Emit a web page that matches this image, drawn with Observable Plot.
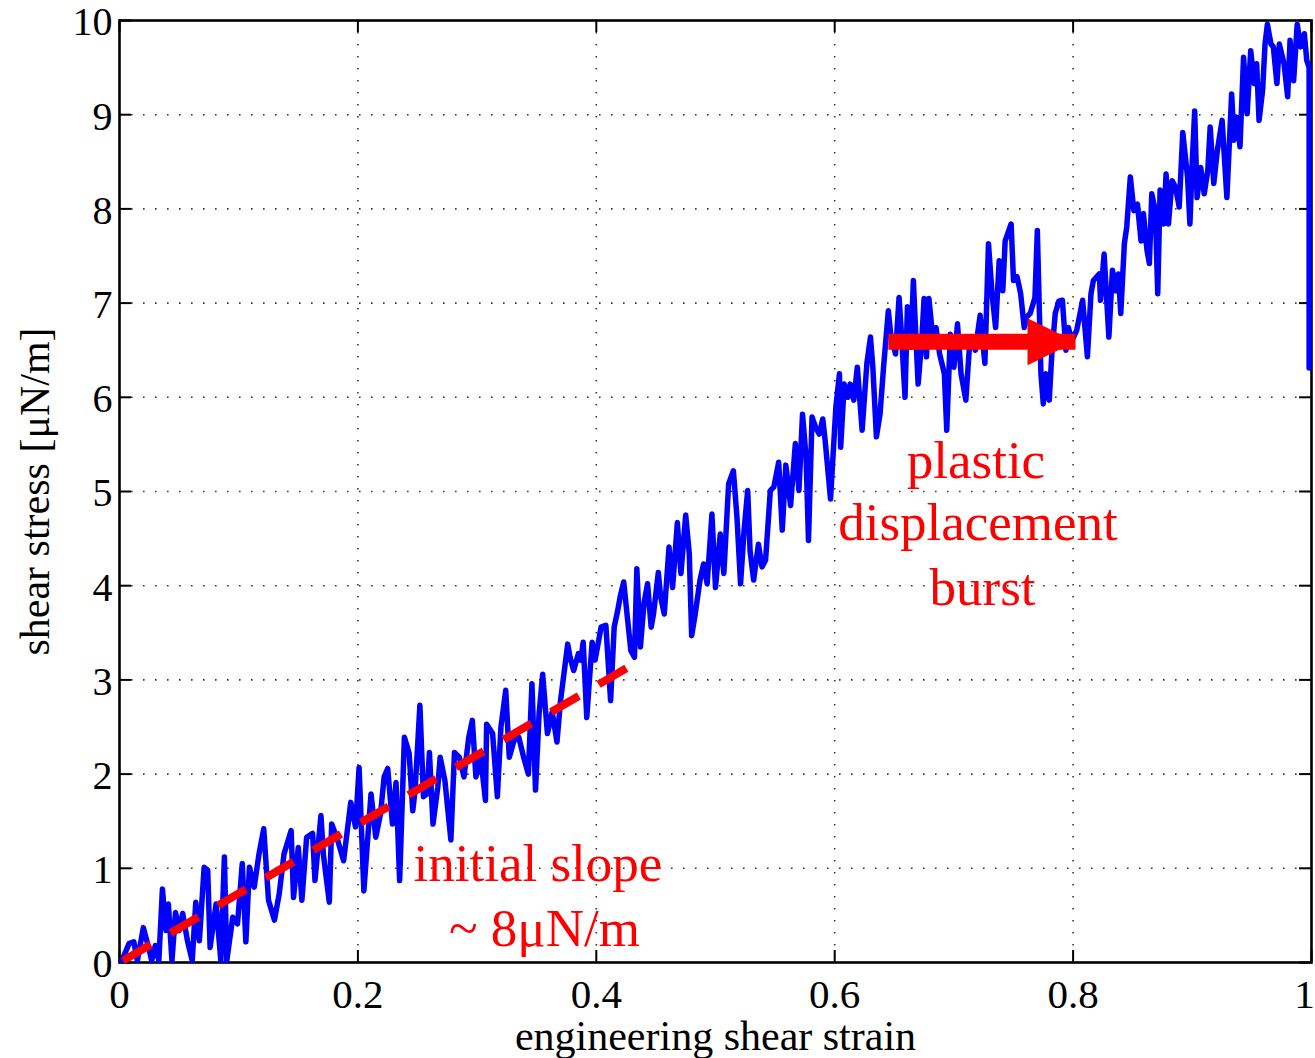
<!DOCTYPE html>
<html><head><meta charset="utf-8">
<script src="https://cdn.jsdelivr.net/npm/d3@7"></script>
<script src="https://cdn.jsdelivr.net/npm/@observablehq/plot@0.6"></script>
<style>
html,body{margin:0;padding:0;background:#fff;}
#chart svg{display:block;}
</style></head><body><div id="chart"></div>
<script>
// engineering shear strain (x) and shear stress in µN/m (y)
const strain = [
0.002,0.008,0.012,0.015,0.020,0.025,0.027,0.030,0.033,0.036,0.039,0.041,0.044,0.047,0.050,0.053,0.057,0.061,0.064,0.067,
0.071,0.074,0.076,0.081,0.085,0.088,0.090,0.095,0.099,0.103,0.106,0.109,0.113,0.117,0.121,0.125,0.130,0.134,0.138,0.144,
0.146,0.150,0.153,0.157,0.162,0.164,0.169,0.171,0.176,0.178,0.183,0.188,0.194,0.198,0.201,
0.205,0.211,0.215,0.219,0.222,0.225,0.229,0.232,0.235,0.239,0.243,0.246,0.248,0.252,0.255,0.258,0.260,0.263,0.267,0.269,
0.273,0.278,0.281,0.285,0.289,0.293,0.296,0.299,0.303,0.307,0.308,0.313,0.317,0.320,0.324,0.327,0.331,0.335,0.339,0.343,
0.346,0.349,0.352,0.355,0.359,0.363,0.367,0.370,0.376,0.378,0.381,0.385,0.387,0.389,0.392,0.3965,
0.399,0.404,0.408,0.412,0.415,0.418,0.420,0.423,0.426,0.429,0.432,0.434,0.437,0.440,0.443,0.446,0.448,0.452,0.454,0.457,
0.461,0.464,0.468,0.471,0.475,0.478,0.480,0.483,0.487,0.490,0.493,0.497,0.500,0.504,0.507,0.511,0.515,0.518,0.521,0.524,
0.527,0.529,0.532,0.536,0.539,0.542,0.546,0.549,0.553,0.556,0.559,0.563,0.567,0.570,0.573,0.576,0.578,
0.581,0.584,0.587,0.590,0.592,0.5965,0.601,0.604,0.605,0.608,0.611,0.613,0.616,0.619,0.623,0.627,0.630,0.632,0.635,0.638,
0.641,0.645,0.647,0.651,0.654,0.656,0.659,0.661,0.664,0.666,0.668,0.670,0.673,0.675,0.677,0.679,0.682,0.685,0.688,0.692,
0.694,0.697,0.700,0.703,0.706,0.710,0.713,0.715,0.718,0.722,0.726,0.729,0.732,0.735,0.738,0.741,0.743,0.748,0.750,0.753,
0.756,0.759,0.761,0.764,0.768,0.770,0.773,0.775,0.777,0.780,0.782,0.785,0.788,
0.791,0.794,0.796,0.799,0.803,0.808,0.812,0.815,0.817,0.822,0.823,0.826,0.830,0.833,0.836,0.838,0.840,0.843,0.845,0.848,
0.851,0.854,0.857,0.859,0.862,0.864,0.866,0.869,0.871,0.873,0.876,0.878,0.880,0.883,0.886,0.889,0.892,0.896,0.898,0.900,
0.902,0.904,0.907,0.910,0.913,0.915,0.918,0.921,0.925,0.929,0.933,0.935,0.938,0.940,0.943,0.946,0.949,0.952,0.954,0.956,
0.959,0.961,0.963,0.966,0.968,0.971,0.973,0.977,0.980,0.982,0.985,0.988,0.991,0.994,0.996,0.998,0.998
];
const stress = [
0.02,0.20,0.22,0.02,0.37,0.13,0.02,0.18,0.02,0.78,0.34,0.62,0.02,0.53,0.34,0.52,0.23,0.02,0.64,0.23,
1.01,0.98,0.16,0.62,0.02,1.12,0.02,0.48,0.41,1.05,0.22,1.01,0.80,1.15,1.42,0.66,0.45,0.73,1.15,1.40,
0.69,1.22,0.66,1.33,1.37,0.87,1.56,1.15,0.64,1.47,1.30,1.08,1.70,1.44,2.07,
0.76,1.79,1.33,1.58,1.97,2.06,1.47,1.91,0.87,2.39,2.22,1.61,1.83,2.73,1.76,1.79,2.23,1.47,1.86,2.18,
1.93,1.30,2.23,2.18,1.97,2.39,2.57,1.97,2.18,1.72,2.53,2.43,1.76,2.50,2.89,2.18,2.36,2.39,2.18,2.00,
2.96,1.83,2.64,3.06,2.43,2.66,2.34,2.78,3.38,3.24,3.10,3.28,3.21,3.40,2.60,3.40,
3.21,3.56,3.58,2.78,3.56,3.74,3.88,4.04,3.67,3.31,3.24,4.18,3.35,3.81,4.02,3.56,3.70,4.14,3.88,3.70,
4.41,3.98,4.67,4.13,4.75,4.34,3.47,3.70,4.06,4.23,4.02,4.76,3.98,4.55,4.13,5.08,5.22,4.73,4.02,4.59,
5.01,4.37,4.06,4.44,4.20,4.27,5.01,5.05,5.31,4.59,5.28,4.85,5.51,5.01,5.82,5.36,4.48,
5.79,5.68,5.61,5.77,5.54,4.92,5.90,6.25,5.47,6.14,6.00,6.14,5.97,6.32,5.65,6.36,6.64,6.32,5.58,5.82,
6.32,6.92,6.67,6.46,7.06,6.67,6.00,6.96,6.53,7.24,6.67,6.14,6.60,7.05,6.43,7.05,6.67,6.74,6.46,6.25,
5.65,6.67,6.32,6.78,6.25,5.97,6.53,6.60,6.50,6.87,6.36,7.63,7.10,6.74,7.45,7.13,7.66,7.84,7.24,7.28,
7.10,6.74,6.85,6.89,7.06,7.77,6.25,5.93,6.25,5.97,6.43,6.89,7.02,
7.03,6.50,6.74,6.60,6.71,7.03,6.43,7.10,7.24,7.31,7.03,7.52,6.64,7.35,7.13,7.31,6.89,7.63,7.81,8.34,
7.98,8.05,7.66,7.95,7.56,7.42,8.16,7.98,7.10,8.20,7.84,8.37,7.84,8.30,8.23,8.02,8.81,8.34,7.84,8.51,
9.04,8.12,8.44,8.16,8.41,8.87,8.27,8.62,8.94,8.12,9.22,8.73,8.97,8.66,9.61,9.01,9.68,9.33,9.54,8.94,
9.26,9.75,9.96,9.75,9.72,9.33,9.75,9.54,9.19,9.79,9.36,9.96,9.72,9.86,9.58,9.50,6.31
];
// dashed fit of the initial slope (~8 µN/m)
const slopeStrain = [0.003, 0.433];
const slopeStress = [0.02, 3.18];
// arrow marking the plastic displacement burst
const burstFrom = [0.645];
const burstTo = [0.802];
const burstStress = [6.59];
// annotation texts
const noteText = ["plastic", "displacement", "burst", "initial slope", "~ 8\u03bcN/m"];
const noteStrain = [0.7185, 0.7202, 0.724, 0.351, 0.3565];
const noteStress = [5.32, 4.66, 3.97, 1.05, 0.357];
// ticks
const xTicks = [0, 0.2, 0.4, 0.6, 0.8, 1];
const yTicks = [0, 1, 2, 3, 4, 5, 6, 7, 8, 9, 10];
const xLabel = "engineering shear strain";
const yLabel = "shear stress [\u03bcN/m]";

const W = 1315, H = 1058;
const mL = 119, mR = 4, mT = 20, mB = 96;
const fw = W - mL - mR, fh = H - mT - mB;
const tickLen = 12;
const headLen = 48, headHalf = 23.5, shaftW = 16;
const arrowHead = {draw(ctx) { ctx.moveTo(0, 0); ctx.lineTo(-headLen, -headHalf); ctx.lineTo(-headLen, headHalf); ctx.closePath(); }};
const font = "'Liberation Serif', 'Times New Roman', Times, serif";
const idx = (a) => a.map((_, i) => i);

const chart = Plot.plot({
  width: W, height: H,
  marginLeft: mL, marginRight: mR, marginTop: mT, marginBottom: mB,
  style: {fontFamily: font, fontSize: "40px", background: "#fff", color: "#000"},
  x: {domain: [0, 1]},
  y: {domain: [0, 10]},
  marks: [
    Plot.gridX(xTicks.slice(1, -1), {stroke: "#222", strokeOpacity: 0.9, strokeWidth: 1.6, strokeDasharray: "1.6,10.4"}),
    Plot.gridY(yTicks.slice(1, -1), {stroke: "#222", strokeOpacity: 0.9, strokeWidth: 1.6, strokeDasharray: "1.6,10.4"}),
    Plot.frame({stroke: "#000", strokeWidth: 2.6}),
    Plot.tickX(xTicks, {x: d => d, insetTop: fh - tickLen, stroke: "#000", strokeWidth: 2}),
    Plot.tickX(xTicks, {x: d => d, insetBottom: fh - tickLen, stroke: "#000", strokeWidth: 2}),
    Plot.tickY(yTicks, {y: d => d, insetRight: fw - tickLen, stroke: "#000", strokeWidth: 2}),
    Plot.tickY(yTicks, {y: d => d, insetLeft: fw - tickLen, stroke: "#000", strokeWidth: 2}),
    Plot.axisX(xTicks.slice(0, -1), {tickSize: 0, tickPadding: 16, fontSize: 41, tickFormat: d => String(d), label: null}),
    Plot.axisX(xTicks.slice(-1), {tickSize: 0, tickPadding: 16, fontSize: 41, dx: -7, tickFormat: d => String(d), label: null}),
    Plot.axisY(yTicks, {tickSize: 0, tickPadding: 7, fontSize: 40, dy: 2, tickFormat: d => String(d), label: null}),
    Plot.line(idx(strain), {x: strain, y: stress, stroke: "#0000ff", strokeWidth: 5.5, strokeLinejoin: "round", strokeLinecap: "round"}),
    Plot.line(idx(slopeStrain), {x: slopeStrain, y: slopeStress, stroke: "#ff0000", strokeWidth: 8, strokeDasharray: "32,23", strokeLinecap: "butt"}),
    Plot.link(idx(burstFrom), {x1: burstFrom, x2: burstTo, y1: burstStress, y2: burstStress, stroke: "#ff0000", strokeWidth: shaftW, strokeLinecap: "butt"}),
    Plot.dot(idx(burstTo), {x: burstTo, y: burstStress, symbol: arrowHead, fill: "#ff0000", stroke: null}),
    Plot.text(noteText, {x: noteStrain, y: noteStress, text: d => d, fill: "#ff0000", fontSize: 53, textAnchor: "middle", lineAnchor: "middle"}),
    Plot.text([xLabel], {frameAnchor: "bottom", dy: 74, fontSize: 42, text: d => d, textAnchor: "middle", lineAnchor: "middle", fill: "#000"}),
    Plot.text([yLabel], {frameAnchor: "left", dx: -84, rotate: -90, fontSize: 42, text: d => d, textAnchor: "middle", lineAnchor: "middle", fill: "#000"})
  ]
});
document.getElementById("chart").appendChild(chart);
</script>
</body></html>
